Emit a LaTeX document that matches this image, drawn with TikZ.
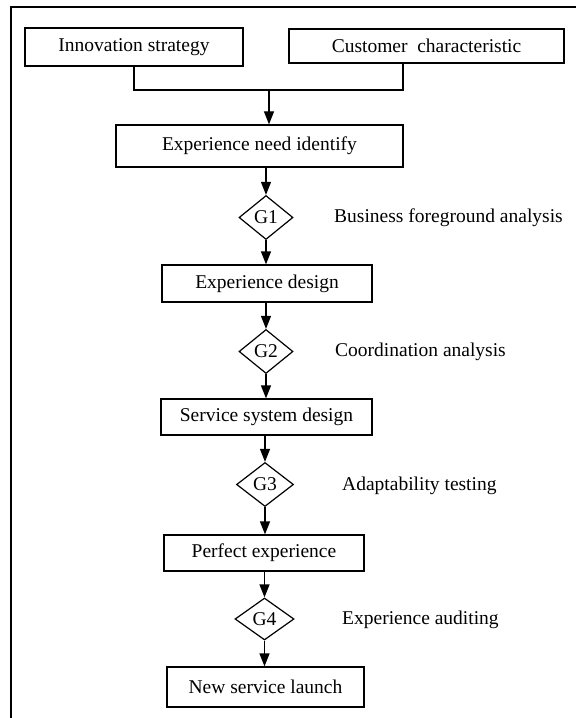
\documentclass[tikz,border=0pt]{standalone}
\usepackage{fontspec}
\setmainfont{Liberation Serif}
\usetikzlibrary{arrows.meta,shapes.geometric}
\begin{document}
\begin{tikzpicture}[x=1bp,y=-1bp,
  every node/.style={font=\fontsize{19.5bp}{23bp}\selectfont, inner sep=0pt},
  stepbox/.style={draw, line width=1.2bp, rectangle},
  gate/.style={draw, line width=1.2bp, diamond, minimum width=54bp, minimum height=44bp},
  note/.style={anchor=west},
  flow/.style={line width=1.2bp, -{Triangle[length=13bp,width=10bp]}},
  link/.style={line width=1.2bp}]
\useasboundingbox (0,0) rectangle (576,718);
% frame
\draw[line width=2bp] (11,720) -- (11,7) -- (580,7);

% input boxes
\node[stepbox, minimum width=218bp, minimum height=38bp] (inno) at (134,47) {Innovation strategy};
\node[stepbox, minimum width=275bp, minimum height=34bp] (cust) at (426.5,46) {Customer\ \ characteristic};

% main flow
\node[stepbox, minimum width=287bp, minimum height=42bp] (need) at (259.5,146) {Experience need identify};
\node[gate] (g1) at (266,217.5) {G1};
\node[stepbox, minimum width=210bp, minimum height=37bp] (design) at (267,283.5) {Experience design};
\node[gate] (g2) at (266,351.5) {G2};
\node[stepbox, minimum width=211bp, minimum height=36bp] (sys) at (266.5,417) {Service system design};
\node[gate, minimum width=57bp] (g3) at (265,484.5) {G3};
\node[stepbox, minimum width=200bp, minimum height=36bp] (perfect) at (264,553) {Perfect experience};
\node[gate, minimum width=59bp, minimum height=42bp] (g4) at (264.5,619) {G4};
\node[stepbox, minimum width=197bp, minimum height=40bp] (launch) at (265.5,687) {New service launch};

% gate descriptions
\node[note] (n1) at (334,218) {Business foreground analysis};
\node[note] (n2) at (335,352) {Coordination analysis};
\node[note] (n3) at (342,486) {Adaptability testing};
\node[note] (n4) at (342,620) {Experience auditing};

% merging of the two inputs
\coordinate (j) at (269,90);
\coordinate (jr) at (403,90);
\draw[link] (inno.south) |- (j);
\draw[link] (cust.south -| jr) -- (jr) -- (j);
\draw[flow] (j) -- (need.north -| j);

% arrows down the chain
\draw[flow] (need.south -| g1) -- (g1.north);
\draw[flow] (g1.south) -- (design.north -| g1);
\draw[flow] (design.south -| g2) -- (g2.north);
\draw[flow] (g2.south) -- (sys.north -| g2);
\draw[flow] (sys.south -| g3) -- (g3.north);
\draw[flow] (g3.south) -- (perfect.north -| g3);
\draw[flow] (perfect.south -| g4) -- (g4.north);
\draw[flow] (g4.south) -- (launch.north -| g4);
\end{tikzpicture}
\end{document}
